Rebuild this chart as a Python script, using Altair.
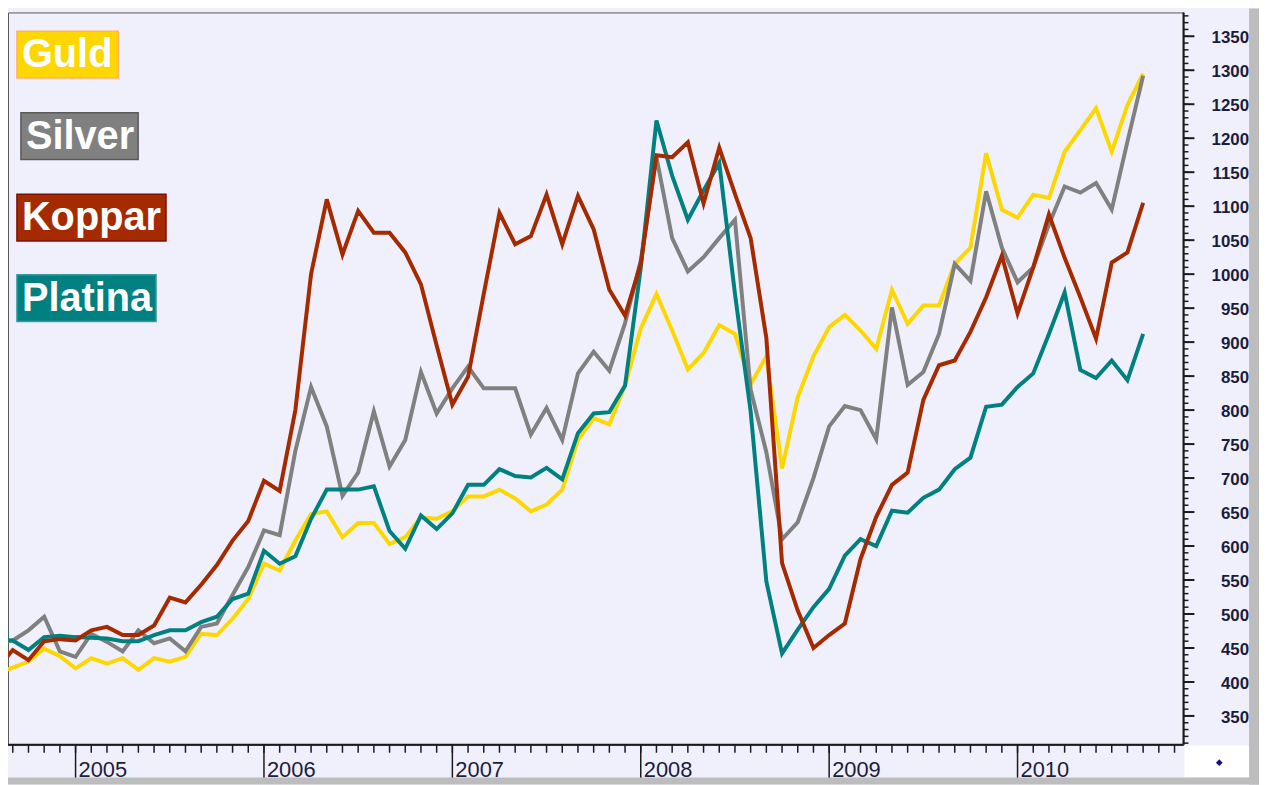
import altair as alt
import pandas as pd

# ---------------- data (monthly, Aug 2004 .. Sep 2010) ----------------
months = pd.date_range("2004-08-01", periods=74, freq="MS").strftime("%Y-%m").tolist()

guld = [413, 421, 430, 449, 438, 420, 435, 427, 435, 418, 435, 430, 437, 471, 469, 493,
        522, 574, 564, 608, 647, 651, 613, 634, 634, 603, 613, 642, 640, 651, 673, 673,
        683, 670, 651, 661, 683, 756, 788, 779, 836, 920, 971, 917, 860, 884, 925, 912,
        838, 879, 714, 819, 879, 922, 940, 917, 890, 977, 927, 954, 954, 1015, 1039, 1178,
        1095, 1083, 1117, 1112, 1180, 1212, 1244, 1180, 1249, 1295]

silver = [457, 461, 476, 496, 445, 437, 471, 459, 445, 476, 457, 464, 445, 481, 486, 528,
          569, 623, 616, 740, 834, 776, 674, 708, 798, 717, 756, 856, 795, 832, 864, 832,
          832, 832, 764, 803, 756, 854, 886, 858, 928, 1020, 1172, 1053, 1004, 1025, 1053, 1080,
          830, 738, 610, 635, 700, 776, 806, 800, 757, 951, 837, 856, 912, 1015, 990, 1122,
          1039, 988, 1010, 1073, 1129, 1120, 1134, 1095, 1195, 1292]

koppar = [420, 447, 432, 460, 463, 461, 476, 481, 469, 469, 483, 524, 517, 543, 572, 608,
          637, 696, 681, 800, 1000, 1110, 1029, 1093, 1061, 1061, 1032, 985, 895, 808, 849, 971,
          1090, 1044, 1056, 1117, 1044, 1115, 1066, 977, 939, 1015, 1175, 1172, 1194, 1104, 1186, 1118,
          1053, 906, 575, 505, 450, 469, 486, 581, 643, 690, 708, 815, 866, 873, 915, 966,
          1027, 942, 1010, 1088, 1024, 966, 905, 1017, 1032, 1105]

platina = [462, 461, 447, 466, 468, 466, 465, 464, 460, 460, 469, 476, 476, 488, 496, 522,
           530, 593, 574, 585, 640, 683, 683, 683, 688, 622, 596, 645, 625, 648, 690, 690,
           713, 703, 701, 715, 698, 766, 795, 797, 836, 1009, 1226, 1145, 1080, 1123, 1164, 971,
           798, 548, 442, 477, 510, 537, 586, 610, 600, 652, 649, 671, 683, 713, 730, 805,
           808, 834, 854, 912, 973, 859, 847, 873, 844, 912]

names = ["Guld", "Silver", "Koppar", "Platina"]
line_colors = ["#FFD700", "#808080", "#A52A00", "#008080"]
years = ["2005", "2006", "2007", "2008", "2009", "2010"]
y_major = list(range(350, 1351, 50))
y_major_labels = [str(v) for v in y_major]
y_minor = list(range(310, 1381, 10))
month_ticks = list(range(-4, 71))


def month_index(s):
    yr, mo = s.split("-")
    return (int(yr) - 2005) * 12 + int(mo) - 1


rows = []
for name, vals in zip(names, [guld, silver, koppar, platina]):
    for mth, v in zip(months, vals):
        rows.append({"series": name, "m": month_index(mth), "value": v})
df = pd.DataFrame(rows)

year_df = pd.DataFrame({"t": [month_index(y + "-01") for y in years], "label": years})
ymaj_df = pd.DataFrame({"t": y_major, "label": y_major_labels})

# ---------------- layout ----------------
W, H = 1183, 737
XDOM = [-4.304, 70.57]
YDOM = [307.6, 1385]
BG = "#F0F0FC"
INK = "#1a1a1a"
LABEL = "#1c1c3c"

xscale = alt.Scale(domain=XDOM, nice=False, zero=False)
yscale = alt.Scale(domain=YDOM, nice=False, zero=False)

draw_order = ["Guld", "Silver", "Platina", "Koppar"]
color_of = dict(zip(names, line_colors))

line_layers = []
for name in draw_order:
    line_layers.append(
        alt.Chart(df).transform_filter(alt.datum.series == name)
        .mark_line(color=color_of[name], strokeWidth=4, clip=True)
        .encode(
            x=alt.X("m:Q", scale=xscale, axis=None),
            y=alt.Y("value:Q", scale=yscale, axis=None),
        )
    )

one = alt.Data(values=[{}])

# axis lines
x_domain = alt.Chart(one).mark_rule(color=INK, strokeWidth=2).encode(
    x=alt.value(0), x2=alt.value(W), y=alt.value(H))
y_domain = alt.Chart(one).mark_rule(color=INK, strokeWidth=2).encode(
    x=alt.value(W), y=alt.value(0), y2=alt.value(H))

# ticks
minor_x = alt.Chart(pd.DataFrame({"t": month_ticks})).mark_rule(
    color=INK, strokeWidth=1.5).encode(
    x=alt.X("t:Q", scale=xscale, axis=None), y=alt.value(H), y2=alt.value(H + 8))
year_x = alt.Chart(year_df).mark_rule(color=INK, strokeWidth=1.5).encode(
    x=alt.X("t:Q", scale=xscale, axis=None), y=alt.value(H), y2=alt.value(H + 35))
year_lbl = alt.Chart(year_df).mark_text(
    font="Liberation Sans", fontSize=22, color=LABEL, align="left",
    baseline="alphabetic", dx=3).encode(
    x=alt.X("t:Q", scale=xscale, axis=None), y=alt.value(H + 32), text="label:N")
minor_y = alt.Chart(pd.DataFrame({"t": y_minor})).mark_rule(
    color=INK, strokeWidth=1.5).encode(
    y=alt.Y("t:Q", scale=yscale, axis=None), x=alt.value(W), x2=alt.value(W + 5))
major_y = alt.Chart(ymaj_df).mark_rule(color=INK, strokeWidth=2).encode(
    y=alt.Y("t:Q", scale=yscale, axis=None), x=alt.value(W), x2=alt.value(W + 11))
y_lbl = alt.Chart(ymaj_df).mark_text(
    font="Liberation Sans", fontSize=17, fontWeight="bold", color=LABEL,
    align="right", baseline="middle", dy=2).encode(
    y=alt.Y("t:Q", scale=yscale, axis=None), x=alt.value(W + 66), text="label:N")

# legend boxes (decoration)
legend_boxes = [
    # name, fill, stroke, x0, x1, y0, y1
    ("Guld", "#FFD700", "#FFB070", 9, 111, 19, 66),
    ("Silver", "#808080", "#5a5a5a", 13, 131, 101, 148),
    ("Koppar", "#A52A00", "#7a1000", 9, 159, 183, 230),
    ("Platina", "#008080", "#3a9a9a", 9, 149, 264, 311),
]
legend_layers = []
for name, fill, stroke, x0, x1, y0, y1 in legend_boxes:
    legend_layers.append(
        alt.Chart(one).mark_rect(fill=fill, stroke=stroke, strokeWidth=1.5).encode(
            x=alt.value(x0), x2=alt.value(x1), y=alt.value(y0), y2=alt.value(y1)))
    legend_layers.append(
        alt.Chart(one).mark_text(
            text=name, font="Liberation Sans", fontSize=40, fontWeight="bold",
            color="white", align="left", baseline="alphabetic").encode(
            x=alt.value(x0 + 5), y=alt.value(y1 - 11)))

corner = alt.Chart(one).mark_rect(fill="white").encode(
    x=alt.value(W + 1), x2=alt.value(W + 66), y=alt.value(H + 1), y2=alt.value(H + 33))
diamond = alt.Chart(one).mark_point(shape="diamond", filled=True, color="#10108C",
                                    size=45, opacity=1).encode(
    x=alt.value(W + 36), y=alt.value(H + 18))
shadow_r = alt.Chart(one).mark_rect(fill="#BDBDBD").encode(
    x=alt.value(W + 66), x2=alt.value(W + 76), y=alt.value(-4), y2=alt.value(H + 40))
shadow_b = alt.Chart(one).mark_rect(fill="#BDBDBD").encode(
    x=alt.value(-8), x2=alt.value(W + 76), y=alt.value(H + 33), y2=alt.value(H + 40))

chart = alt.layer(
    *line_layers, minor_x, year_x, year_lbl, minor_y, major_y, y_lbl,
    x_domain, y_domain, *legend_layers, corner, diamond, shadow_r, shadow_b,
).properties(
    width=W, height=H,
    padding={"left": 0, "top": 2, "right": 76, "bottom": 38},
    autosize=alt.AutoSizeParams(type="none"),
    background=BG,
).configure_view(stroke="#555555", strokeWidth=1)

chart.save("out.html", embed_options={"renderer": "svg", "actions": False})
